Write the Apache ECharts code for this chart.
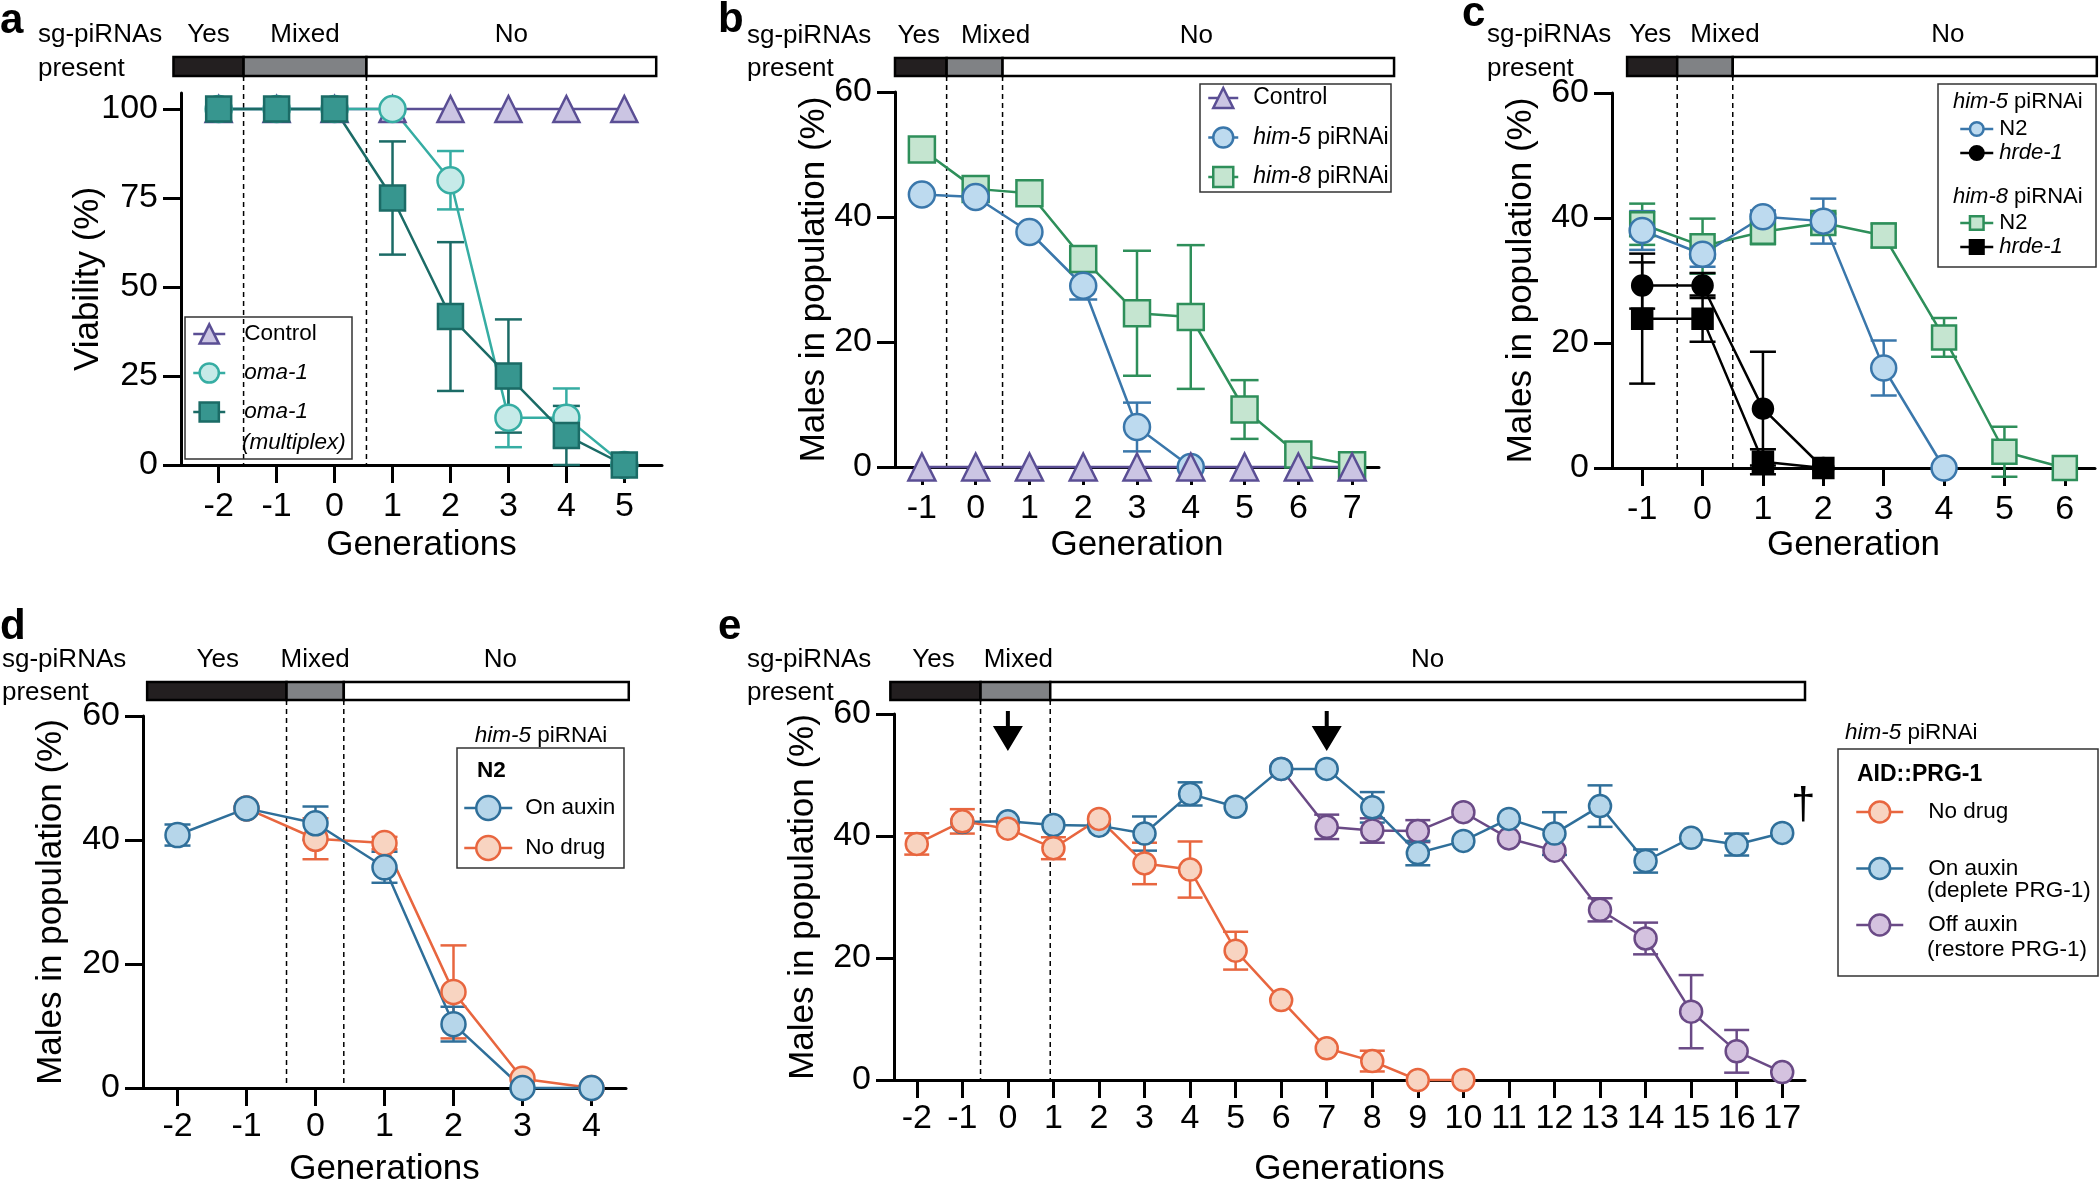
<!DOCTYPE html>
<html><head><meta charset="utf-8">
<script src="https://cdn.jsdelivr.net/npm/echarts@6/dist/echarts.min.js"></script>
<style>html,body{margin:0;padding:0;background:#fff}#c{width:2100px;height:1188px}</style>
</head><body><div id="c"></div>
<script>
// ================= DATA =================
// Panel a : viability
const aGen = [-2, -1, 0, 1, 2, 3, 4, 5];
const aControl = [100, 100, 100, 100, 100, 100, 100, 100];
const aOma1 = [100, 100, 100, 100, 80, 13.3, 13.3, 0];
const aOma1Err = [0, 0, 0, 0, 8.2, 8.3, 8.2, 0];
const aMultiplex = [100, 100, 100, 75, 41.7, 25, 8.3, 0];
const aMultiplexErr = [0, 0, 0, 15.9, 20.9, 15.9, 8.3, 0];
const aXTicks = [-2, -1, 0, 1, 2, 3, 4, 5];
const aYTicks = [0, 25, 50, 75, 100];
const aBarBounds = [-2.78, -1.57, 0.55, 5.55];

// Panel b
const bGen = [-1, 0, 1, 2, 3, 4, 5, 6, 7];
const bControl = [0, 0, 0, 0, 0, 0, 0, 0, 0];
const bHim5Gen = [-1, 0, 1, 2, 3, 4];
const bHim5 = [43.6, 43.2, 37.6, 29.0, 6.4, 0];
const bHim5Err = [0, 0, 0, 2.2, 3.9, 0];
const bHim8 = [50.8, 44.5, 43.8, 33.3, 24.6, 24.0, 9.2, 2.0, 0.3];
const bHim8Err = [0, 0, 0, 0, 10, 11.5, 4.7, 0, 0];
const bXTicks = [-1, 0, 1, 2, 3, 4, 5, 6, 7];
const bYTicks = [0, 20, 40, 60];
const bBarBounds = [-1.5, -0.54, 0.5, 7.78];

// Panel c
const cHim5N2Gen = [-1, 0, 1, 2, 3, 4];
const cHim5N2 = [38.0, 34.2, 40.2, 39.5, 16.0, 0];
const cHim5N2Err = [3.1, 2.0, 1.0, 3.6, 4.4, 0];
const cHrdeGen = [-1, 0, 1, 2];
const cHim5Hrde = [29.2, 29.2, 9.5, 0];
const cHim5HrdeErr = [3.7, 2.0, 9.1, 0];
const cHim8N2Gen = [-1, 0, 1, 2, 3, 4, 5, 6];
const cHim8N2 = [39.0, 35.5, 37.8, 39.2, 37.2, 20.9, 2.6, 0];
const cHim8N2Err = [3.3, 4.4, 2.0, 1.5, 1.9, 3.1, 4.0, 0];
const cHim8Hrde = [23.9, 23.9, 1.0, 0];
const cHim8HrdeErr = [10.4, 3.7, 2.0, 0];
const cXTicks = [-1, 0, 1, 2, 3, 4, 5, 6];
const cYTicks = [0, 20, 40, 60];
const cBarBounds = [-1.25, -0.42, 0.5, 6.53];

// Panel d
const dOnGen = [-2, -1, 0, 1, 2, 3, 4];
const dOnAuxin = [40.8, 45.1, 42.7, 35.6, 10.3, 0, 0];
const dOnAuxinErr = [1.7, 0, 2.7, 2.5, 2.8, 0, 0];
const dNoGen = [-1, 0, 1, 2, 3, 4];
const dNoDrug = [45.1, 40.2, 39.5, 15.5, 1.5, 0];
const dNoDrugErr = [0, 3.3, 1.0, 7.5, 0, 0];
const dXTicks = [-2, -1, 0, 1, 2, 3, 4];
const dYTicks = [0, 20, 40, 60];
const dBarBounds = [-2.44, -0.42, 0.41, 4.54];

// Panel e
const eNoGen = [-2, -1, 0, 1, 2, 3, 4, 5, 6, 7, 8, 9, 10];
const eNoDrug = [38.7, 42.4, 41.2, 38.0, 42.8, 35.5, 34.5, 21.2, 13.1, 5.2, 3.1, 0, 0];
const eNoDrugErr = [1.75, 2.0, 0, 1.8, 0, 3.4, 4.6, 3.1, 0, 0, 1.7, 0, 0];
const eOnGen = [-1, 0, 1, 2, 3, 4, 5, 6, 7, 8, 9, 10, 11, 12, 13, 14, 15, 16, 17];
const eOnAuxin = [42.3, 42.4, 41.8, 41.7, 40.4, 46.9, 44.8, 51.0, 51.0, 44.7, 37.2, 39.2, 42.8, 40.4, 44.9, 35.9, 39.7, 38.6, 40.5];
const eOnAuxinErr = [0, 0, 0, 0, 2.8, 1.9, 0, 0, 0, 2.5, 2.0, 0, 0, 3.5, 3.4, 1.9, 0, 1.8, 0];
const eOffGen = [6, 7, 8, 9, 10, 11, 12, 13, 14, 15, 16, 17];
const eOffAuxin = [51.0, 41.5, 40.9, 40.8, 43.9, 39.6, 37.6, 27.9, 23.2, 11.2, 4.7, 1.3];
const eOffAuxinErr = [0, 2.0, 2.0, 1.8, 0, 0, 0, 1.9, 2.6, 6.0, 3.5, 0];
const eArrowGen = [0, 7];
const eXTicks = [-2, -1, 0, 1, 2, 3, 4, 5, 6, 7, 8, 9, 10, 11, 12, 13, 14, 15, 16, 17];
const eYTicks = [0, 20, 40, 60];
const eBarBounds = [-2.58, -0.6, 0.93, 17.5];

const barLabels = ['Yes', 'Mixed', 'No'];

// ================= STYLE / LAYOUT =================
const FONT = '"Liberation Sans", Arial, Helvetica, sans-serif';
const BAR_FILL = ['#231f20', '#808285', '#ffffff'];
const C = {
  purple: ['#5a4e94', '#cbc5e3'],
  teal: ['#36ada3', '#c6eae8'],
  tealDark: ['#1b6b66', '#37968f'],
  blue: ['#3a77ab', '#bddaef'],
  green: ['#2e8f5a', '#c5e5d0'],
  black: ['#000000', '#000000'],
  blue2: ['#2f6f9a', '#b6d6ea'],
  orange: ['#e8663f', '#f8d4c1'],
  purple2: ['#6a4a86', '#d4c2df']
};

const grids = [], xAxes = [], yAxes = [], series = [], legends = [], graphics = [];

function axisOpt(ticks, margin) {
  return {
    type: 'value', nameLocation: 'middle',
    nameTextStyle: { color: '#000', fontSize: 35, fontFamily: FONT },
    axisLine: { show: true, onZero: false, lineStyle: { color: '#000', width: 3 } },
    axisTick: { show: true, length: 18, lineStyle: { color: '#000', width: 3 }, customValues: ticks },
    axisLabel: { color: '#000', fontSize: 34, fontFamily: FONT, margin: margin, customValues: ticks },
    splitLine: { show: false }
  };
}

function panel(L) {
  const gi = grids.length;
  grids.push({ left: L.left, top: L.top, width: L.width, height: L.height, containLabel: false });
  xAxes.push(Object.assign(axisOpt(L.xTicks, L.xMargin), { gridIndex: gi, min: L.x[0], max: L.x[1], name: L.xName, nameGap: L.xNameGap }));
  yAxes.push(Object.assign(axisOpt(L.yTicks, 23), { gridIndex: gi, min: L.y[0], max: L.y[1], name: L.yName, nameGap: L.yNameGap, nameMoveOverlap: false }));
  // presence bar, labels and dashed separators
  const bounds = L.bounds;
  const segs = [[bounds[0], bounds[1], 0], [bounds[1], bounds[2], 1], [bounds[2], bounds[3], 2]];
  series.push({
    type: 'custom', xAxisIndex: gi, yAxisIndex: gi, silent: true, animation: false, clip: false,
    data: segs, encode: { x: [0, 1] },
    renderItem: function (params, api) {
      const k = api.value(2);
      const p0 = api.coord([api.value(0), L.y[1]]);
      const p1 = api.coord([api.value(1), L.y[1]]);
      const y0 = api.coord([api.value(0), 0])[1];
      const top = p0[1] - L.barOff;
      const ch = [{
        type: 'rect', shape: { x: p0[0], y: top, width: p1[0] - p0[0], height: L.barH },
        style: { fill: BAR_FILL[k], stroke: '#000', lineWidth: 2.5 }
      }, {
        type: 'text',
        style: {
          text: barLabels[k], x: (p0[0] + p1[0]) / 2 + L.shift[k], y: top - 22.5,
          fill: '#000', fontSize: 26, fontFamily: FONT,
          align: 'center', textAlign: 'center', verticalAlign: 'middle', textVerticalAlign: 'middle'
        }
      }];
      if (k > 0) {
        ch.push({
          type: 'line', shape: { x1: p0[0], y1: top + L.barH, x2: p0[0], y2: y0 },
          style: { stroke: '#000', lineWidth: 1.5, lineDash: [5, 4] }
        });
      }
      return { type: 'group', children: ch };
    }
  });
  // panel letter and row titles
  txt(L.letter, L.letterX, L.letterY, { fontSize: 42, fontWeight: 'bold' });
  txt('sg-piRNAs', L.sgX, L.top - L.barOff - 22.5, { fontSize: 26 });
  txt('present', L.sgX, L.top - L.barOff + L.barH / 2 + 2, { fontSize: 26 });
  return gi;
}

function txt(text, x, y, o) {
  graphics.push({
    type: 'text', silent: true, z: 100,
    style: Object.assign({
      text: text, x: x, y: y, fill: '#000', fontSize: 22, fontFamily: FONT,
      align: 'left', textAlign: 'left', verticalAlign: 'middle', textVerticalAlign: 'middle',
      rich: { i: { fontStyle: 'italic', fontFamily: FONT } }
    }, o || {})
  });
}
function box(x, y, w, h) {
  graphics.push({ type: 'rect', silent: true, z: 99, shape: { x: x, y: y, width: w, height: h }, style: { fill: 'none', stroke: '#333', lineWidth: 1.5 } });
}

function addErr(gi, xs, ys, es, color, cap) {
  const d = [];
  xs.forEach(function (x, i) { if (es[i] > 0) d.push([x, ys[i], es[i]]); });
  series.push({
    type: 'custom', xAxisIndex: gi, yAxisIndex: gi, silent: true, animation: false, clip: false,
    data: d, encode: { x: 0, y: 1 },
    renderItem: function (params, api) {
      const x = api.value(0), y = api.value(1), e = api.value(2);
      const t = api.coord([x, y + e]), b = api.coord([x, y - e]);
      const h = cap / 2, st = { stroke: color, lineWidth: 2.5 };
      return {
        type: 'group', children: [
          { type: 'line', shape: { x1: t[0], y1: t[1], x2: b[0], y2: b[1] }, style: st },
          { type: 'line', shape: { x1: t[0] - h, y1: t[1], x2: t[0] + h, y2: t[1] }, style: st },
          { type: 'line', shape: { x1: b[0] - h, y1: b[1], x2: b[0] + h, y2: b[1] }, style: st }
        ]
      };
    }
  });
}

function addLine(gi, name, xs, ys, sym, size, col, extra) {
  series.push(Object.assign({
    type: 'line', name: name, xAxisIndex: gi, yAxisIndex: gi,
    data: xs.map(function (x, i) { return [x, ys[i]]; }),
    symbol: sym, symbolSize: size, showSymbol: true, showAllSymbol: true, clip: false,
    lineStyle: { color: col[0], width: 2.5 },
    itemStyle: { color: col[1], borderColor: col[0], borderWidth: 2.5 },
    emphasis: { disabled: true }, animation: false
  }, extra || {}));
}

const LABELS = {
  'Control': 'Control', 'oma-1': '{i|oma-1}', 'oma-1 (multiplex)': '{i|oma-1}',
  'Control ': 'Control', 'him-5 piRNAi': '{i|him-5} piRNAi', 'him-8 piRNAi': '{i|him-8} piRNAi',
  'him-5 N2': 'N2', 'him-5 hrde-1': '{i|hrde-1}', 'him-8 N2': 'N2', 'him-8 hrde-1': '{i|hrde-1}',
  'N2 On auxin': 'On auxin', 'N2 No drug': 'No drug',
  'AID::PRG-1 No drug': 'No drug', 'AID::PRG-1 On auxin': 'On auxin', 'AID::PRG-1 Off auxin': 'Off auxin'
};
function addLegend(names, left, top, itemW, itemH, gap, fs, pad) {
  legends.push({
    data: names, left: left, top: top, orient: 'vertical', padding: 0,
    itemGap: gap, itemWidth: itemW, itemHeight: itemH, selectedMode: false,
    lineStyle: { width: 2.5 }, itemStyle: { borderWidth: 2.5 },
    formatter: function (n) { return LABELS[n]; },
    textStyle: {
      color: '#000', fontSize: fs, fontFamily: FONT, lineHeight: itemH, padding: [0, 0, 0, pad],
      rich: { i: { fontStyle: 'italic', fontSize: fs, fontFamily: FONT, color: '#000', lineHeight: itemH } }
    }
  });
}

// ---------- Panel a ----------
const ga = panel({
  left: 181, top: 93, width: 481, height: 372, x: [-2.65, 5.65], y: [0, 104.5],
  xTicks: aXTicks, yTicks: aYTicks, xName: 'Generations', xNameGap: 63, xMargin: 25, yName: 'Viability (%)', yNameGap: 75,
  bounds: aBarBounds, barOff: 36, barH: 19, shift: [0, 0, 0], letter: 'a', letterX: 0, letterY: 21, sgX: 38
});
addLine(ga, 'Control', aGen, aControl, 'triangle', 26, C.purple);
addErr(ga, aGen, aOma1, aOma1Err, C.teal[0], 27);
addLine(ga, 'oma-1', aGen, aOma1, 'circle', 26, C.teal);
addErr(ga, aGen, aMultiplex, aMultiplexErr, C.tealDark[0], 27);
addLine(ga, 'oma-1 (multiplex)', aGen, aMultiplex, 'rect', 25, C.tealDark);
box(185, 317, 167, 142);
addLegend(['Control', 'oma-1', 'oma-1 (multiplex)'], 192, 322, 32, 24, 15, 22.5, 14);
txt('{i|(multiplex)}', 242, 443, { fontSize: 22.5, rich: { i: { fontStyle: 'italic', fontSize: 22.5, fontFamily: FONT } } });

// ---------- Panel b ----------
const gb = panel({
  left: 895, top: 92, width: 484, height: 375, x: [-1.5, 7.5], y: [0, 60],
  xTicks: bXTicks, yTicks: bYTicks, xName: 'Generation', xNameGap: 61, xMargin: 25, yName: 'Males in population (%)', yNameGap: 63,
  bounds: bBarBounds, barOff: 34, barH: 18, shift: [-2, 21, -2], letter: 'b', letterX: 718, letterY: 20, sgX: 747
});
addErr(gb, bGen, bHim8, bHim8Err, C.green[0], 28);
addLine(gb, 'him-8 piRNAi', bGen, bHim8, 'rect', 26, C.green);
addErr(gb, bHim5Gen, bHim5, bHim5Err, C.blue[0], 28);
addLine(gb, 'him-5 piRNAi', bHim5Gen, bHim5, 'circle', 26, C.blue);
addLine(gb, 'Control ', bGen, bControl, 'triangle', 27, C.purple);
box(1200, 84, 191, 108);
addLegend(['Control ', 'him-5 piRNAi', 'him-8 piRNAi'], 1207, 85.5, 30, 25, 14.5, 23, 10);

// ---------- Panel c ----------
const gc = panel({
  left: 1612, top: 93, width: 483, height: 375, x: [-1.5, 6.5], y: [0, 60],
  xTicks: cXTicks, yTicks: cYTicks, xName: 'Generation', xNameGap: 60, xMargin: 25, yName: 'Males in population (%)', yNameGap: 73,
  bounds: cBarBounds, barOff: 36, barH: 19, shift: [-2, 20, 33], letter: 'c', letterX: 1462, letterY: 14, sgX: 1487
});
addErr(gc, cHim8N2Gen, cHim8N2, cHim8N2Err, C.green[0], 26);
addLine(gc, 'him-8 N2', cHim8N2Gen, cHim8N2, 'rect', 24, C.green);
addErr(gc, cHim5N2Gen, cHim5N2, cHim5N2Err, C.blue[0], 26);
addLine(gc, 'him-5 N2', cHim5N2Gen, cHim5N2, 'circle', 25, C.blue);
addErr(gc, cHrdeGen, cHim8Hrde, cHim8HrdeErr, '#000', 26);
addLine(gc, 'him-8 hrde-1', cHrdeGen, cHim8Hrde, 'rect', 20, C.black);
addErr(gc, cHrdeGen, cHim5Hrde, cHim5HrdeErr, '#000', 26);
addLine(gc, 'him-5 hrde-1', cHrdeGen, cHim5Hrde, 'circle', 20, C.black);
box(1938, 84, 158, 183);
txt('{i|him-5} piRNAi', 1953, 102, { fontSize: 22, rich: { i: { fontStyle: 'italic', fontSize: 22, fontFamily: FONT } } });
txt('{i|him-8} piRNAi', 1953, 197, { fontSize: 22, rich: { i: { fontStyle: 'italic', fontSize: 22, fontFamily: FONT } } });
addLegend(['him-5 N2', 'him-5 hrde-1'], 1959, 118, 33, 17, 2, 22, 1);
addLegend(['him-8 N2', 'him-8 hrde-1'], 1959, 212, 33, 17, 2, 22, 1);

// ---------- Panel d ----------
const gd = panel({
  left: 143, top: 716, width: 483, height: 375, x: [-2.5, 4.5], y: [0, 60],
  xTicks: dXTicks, yTicks: dYTicks, xName: 'Generations', xNameGap: 64, xMargin: 22, yName: 'Males in population (%)', yNameGap: 74,
  bounds: dBarBounds, barOff: 34, barH: 18, shift: [1, 0, 14], letter: 'd', letterX: 0, letterY: 627, sgX: 2
});
addErr(gd, dNoGen, dNoDrug, dNoDrugErr, C.orange[0], 26);
addLine(gd, 'N2 No drug', dNoGen, dNoDrug, 'circle', 24, C.orange);
addErr(gd, dOnGen, dOnAuxin, dOnAuxinErr, C.blue2[0], 26);
addLine(gd, 'N2 On auxin', dOnGen, dOnAuxin, 'circle', 24, C.blue2);
box(457, 748, 167, 120);
txt('{i|him-5} piRNAi', 541, 736, { fontSize: 22.5, align: 'center', textAlign: 'center', rich: { i: { fontStyle: 'italic', fontSize: 22.5, fontFamily: FONT } } });
txt('N2', 477, 771, { fontSize: 22.5, fontWeight: 'bold' });
addLegend(['N2 On auxin', 'N2 No drug'], 463, 793, 48, 30, 10, 22.5, 8);

// ---------- Panel e ----------
const ge = panel({
  left: 894, top: 714, width: 911, height: 377, x: [-2.5, 17.5], y: [0, 60],
  xTicks: eXTicks, yTicks: eYTicks, xName: 'Generations', xNameGap: 72, xMargin: 22, yName: 'Males in population (%)', yNameGap: 73,
  bounds: eBarBounds, barOff: 32, barH: 18, shift: [-2, 3, 0], letter: 'e', letterX: 718, letterY: 627, sgX: 747
});
const ARROW_Y = 57.2;
series.push({
  type: 'scatter', xAxisIndex: ge, yAxisIndex: ge, silent: true, animation: false, clip: false,
  data: eArrowGen.map(function (g) { return [g, ARROW_Y]; }),
  symbol: 'path://M13,0 L17,0 L17,15 L30,15 L15,40 L0,15 L13,15 Z', symbolSize: [30, 40],
  itemStyle: { color: '#000', opacity: 1 }
});
addErr(ge, eOffGen, eOffAuxin, eOffAuxinErr, C.purple2[0], 25);
addLine(ge, 'AID::PRG-1 Off auxin', eOffGen, eOffAuxin, 'circle', 22, C.purple2);
addErr(ge, eOnGen, eOnAuxin, eOnAuxinErr, C.blue2[0], 25);
addLine(ge, 'AID::PRG-1 On auxin', eOnGen, eOnAuxin, 'circle', 22, C.blue2, {
  markPoint: {
    silent: true, symbol: 'circle', symbolSize: 1, itemStyle: { color: 'rgba(0,0,0,0)' },
    data: [{ coord: [eOnGen[eOnGen.length - 1], eOnAuxin[eOnAuxin.length - 1]] }],
    label: { show: true, position: 'inside', formatter: '\u2020', offset: [21, -27], fontSize: 44, color: '#000', fontFamily: FONT }
  }
});
addErr(ge, eNoGen, eNoDrug, eNoDrugErr, C.orange[0], 25);
addLine(ge, 'AID::PRG-1 No drug', eNoGen, eNoDrug, 'circle', 22, C.orange);
box(1838, 749, 260, 227);
txt('{i|him-5} piRNAi', 1845, 733, { fontSize: 22.5, rich: { i: { fontStyle: 'italic', fontSize: 22.5, fontFamily: FONT } } });
txt('AID::PRG-1', 1857, 775, { fontSize: 23, fontWeight: 'bold' });
addLegend(['AID::PRG-1 No drug', 'AID::PRG-1 On auxin', 'AID::PRG-1 Off auxin'], 1855, 799, 47, 26, 30.5, 22.5, 20);
txt('(deplete PRG-1)', 1927, 891, { fontSize: 22.5 });
txt('(restore PRG-1)', 1927, 950, { fontSize: 22.5 });

// ================= CHART =================
const chart = echarts.init(document.getElementById('c'), null, { renderer: 'canvas', width: 2100, height: 1188 });
chart.setOption({
  backgroundColor: '#ffffff',
  animation: false,
  textStyle: { fontFamily: FONT },
  grid: grids, xAxis: xAxes, yAxis: yAxes,
  legend: legends, series: series, graphic: { elements: graphics }
});
</script></body></html>
